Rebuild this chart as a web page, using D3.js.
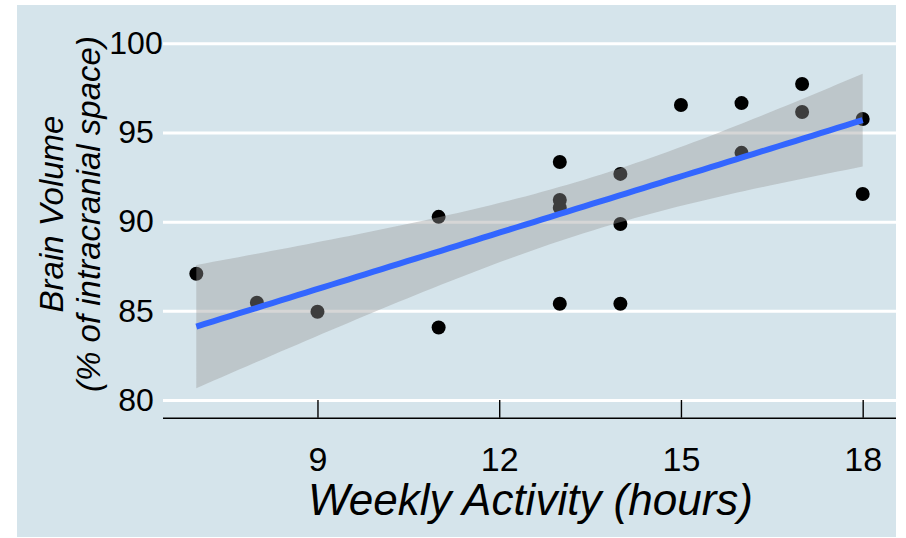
<!DOCTYPE html>
<html>
<head>
<meta charset="utf-8">
<script src="https://cdn.jsdelivr.net/npm/d3@7"></script>
<style>
  html, body { margin: 0; padding: 0; background: #ffffff; }
  svg { display: block; font-family: "Liberation Sans", Arial, Helvetica, sans-serif; }
</style>
</head>
<body>
<svg id="chart" width="906" height="538"></svg>
<script>
// ---- data ----
const activityHours = [7, 8, 9, 11, 11, 13, 13, 13, 13, 14, 14, 14, 15, 16, 16, 17, 17, 18, 18];
const brainVolume   = [87.08, 85.45, 84.95, 90.27, 84.07, 93.35, 91.22, 90.78, 85.40, 92.68, 89.87, 85.40, 96.54, 96.65, 93.86, 97.72, 96.15, 95.76, 91.55];
const xTicks = [9, 12, 15, 18];
const yTicks = [80, 85, 90, 95, 100];
const xTitle = "Weekly Activity (hours)";
const yTitleLines = ["Brain Volume", "(% of intracranial space)"];

// ---- linear model + 95% confidence band (as geom_smooth(method = "lm")) ----
const n = activityHours.length;
const mx = d3.mean(activityHours), my = d3.mean(brainVolume);
const sxx = d3.sum(activityHours, v => (v - mx) ** 2);
const sxy = d3.sum(activityHours.map((v, i) => (v - mx) * (brainVolume[i] - my)));
const slope = sxy / sxx, intercept = my - slope * mx;
const sse = d3.sum(activityHours.map((v, i) => (brainVolume[i] - (intercept + slope * v)) ** 2));
const sigma = Math.sqrt(sse / (n - 2));
const tCrit = 2.109816; // t quantile 0.975, df = 17
const [xmin, xmax] = d3.extent(activityHours);
const fitX = d3.range(80).map(i => xmin + (xmax - xmin) * i / 79);
const fit = fitX.map(x => {
  const yhat = intercept + slope * x;
  const se = sigma * Math.sqrt(1 / n + (x - mx) ** 2 / sxx);
  return { x, y: yhat, lo: yhat - tCrit * se, hi: yhat + tCrit * se };
});

// ---- layout ----
const svg = d3.select("#chart");
const panel = { left: 163, right: 896, top: 5, bottom: 417.7 };

svg.append("rect")
  .attr("x", 17).attr("y", 5).attr("width", 879).attr("height", 532)
  .attr("fill", "#d5e4eb");

const x = d3.scaleLinear().domain([6.45, 18.55]).range([panel.left, panel.right]);
const y = d3.scaleLinear().domain([79.008, 102.15]).range([panel.bottom, panel.top]);

// gridlines + y labels
const yAxis = svg.append("g")
  .attr("transform", `translate(${panel.left},0)`)
  .call(d3.axisLeft(y).tickValues(yTicks).tickSize(-(panel.right - panel.left)).tickFormat(d3.format("d")));
yAxis.select(".domain").remove();
yAxis.selectAll(".tick line").attr("stroke", "#ffffff").attr("stroke-width", 3);
yAxis.selectAll(".tick text")
  .attr("x", 136 - panel.left)
  .attr("text-anchor", "middle")
  .attr("fill", "#000000")
  .style("font-size", "32px")
  .style("font-family", "'Liberation Sans', Arial, sans-serif");

// points
svg.append("g").selectAll("circle")
  .data(activityHours.map((v, i) => ({ x: v, y: brainVolume[i] })))
  .join("circle")
  .attr("cx", d => x(d.x)).attr("cy", d => y(d.y)).attr("r", 7)
  .attr("fill", "#000000");

// ribbon
svg.append("path")
  .datum(fit)
  .attr("d", d3.area().x(d => x(d.x)).y0(d => y(d.lo)).y1(d => y(d.hi)))
  .attr("fill", "#999999").attr("fill-opacity", 0.4);

// fitted line
svg.append("path")
  .datum(fit)
  .attr("d", d3.line().x(d => x(d.x)).y(d => y(d.y)))
  .attr("fill", "none").attr("stroke", "#3366FF").attr("stroke-width", 6);

// x axis
const xAxis = svg.append("g")
  .attr("transform", `translate(0,${panel.bottom})`)
  .call(d3.axisBottom(x).tickValues(xTicks).tickSize(-17.7).tickSizeOuter(0).tickPadding(29).tickFormat(d3.format("d")));
xAxis.select(".domain").attr("stroke", "#000000").attr("stroke-width", 1.4)
  .attr("d", `M${panel.left},0.5H${panel.right}`);
xAxis.selectAll(".tick line").attr("stroke", "#000000").attr("stroke-width", 1.4);
xAxis.selectAll(".tick text")
  .attr("fill", "#000000")
  .style("font-size", "34px")
  .style("font-family", "'Liberation Sans', Arial, sans-serif");

// axis titles
svg.append("text")
  .attr("x", 530.5).attr("y", 515)
  .attr("text-anchor", "middle")
  .style("font-size", "44px").style("font-style", "italic")
  .text(xTitle);

const yt = svg.append("text")
  .attr("transform", "translate(0,214) rotate(-90)")
  .attr("text-anchor", "middle")
  .style("font-size", "33px").style("font-style", "italic");
yTitleLines.forEach((t, i) => {
  yt.append("tspan").attr("x", 0).attr("y", i === 0 ? 63 : 100).text(t);
});
</script>
</body>
</html>
